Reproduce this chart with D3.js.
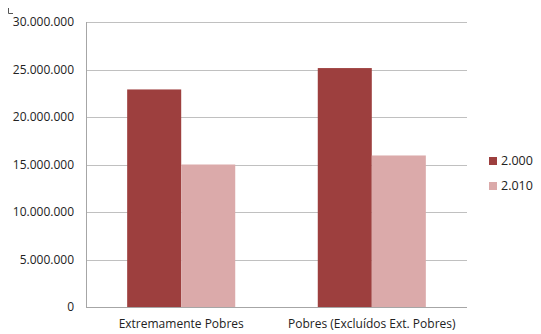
<!DOCTYPE html>
<html><head><meta charset="utf-8">
<script src="https://cdn.jsdelivr.net/npm/d3@7"></script>
<style>body{margin:0;background:#fff}svg{display:block}text{font-family:"Open Sans",sans-serif;fill:#222}</style>
</head><body><svg id="c" width="541" height="334"></svg>
<script>
const categories = ["Extremamente Pobres", "Pobres (Excluídos Ext. Pobres)"];
const seriesNames = ["2.000", "2.010"];
const values2000 = [22900000, 25150000];
const values2010 = [15000000, 15950000];
const colors = ["#9d3f3e", "#dbaaaa"];
const yTicks = [0, 5000000, 10000000, 15000000, 20000000, 25000000, 30000000];
const fmt = v => d3.format(",")(v).replace(/,/g, ".");

const svg = d3.select("#c");
const m = {l: 86, r: 467, t: 22, b: 307};
const x = d3.scaleBand().domain(categories).range([m.l, m.r]).paddingInner(0.433).paddingOuter(0.216);
const xs = d3.scaleBand().domain(seriesNames).range([0, x.bandwidth()]);
const y = d3.scaleLinear().domain([0, 30000000]).range([m.b, m.t]);

// corner mark
svg.append("path").attr("d", "M8.5,8 V13.5 H13").attr("fill", "none").attr("stroke", "#555").attr("stroke-width", 1);

// gridlines
svg.append("g").selectAll("line").data(yTicks.filter(d => d > 0)).join("line")
  .attr("x1", m.l).attr("x2", m.r).attr("y1", d => Math.round(y(d)) + 0.5).attr("y2", d => Math.round(y(d)) + 0.5)
  .attr("stroke", "#c0c0c0").attr("stroke-width", 1);

// y axis
const ya = svg.append("g").attr("transform", `translate(${m.l},0)`)
  .call(d3.axisLeft(y).tickValues(yTicks).tickFormat(fmt).tickSize(0).tickPadding(12));
ya.select(".domain").attr("stroke", "#a6a6a6").attr("d", `M0.5,${m.t}V${m.b}`);
ya.selectAll("text").attr("font-size", 12).attr("font-family", "Open Sans, sans-serif").attr("fill", "#222");

// bars
const data = categories.map((c, i) => ({c, vals: [values2000[i], values2010[i]]}));
svg.append("g").selectAll("g").data(data).join("g")
  .attr("transform", d => `translate(${x(d.c)},0)`)
  .selectAll("rect").data(d => d.vals.map((v, j) => ({v, j}))).join("rect")
  .attr("x", d => xs(seriesNames[d.j])).attr("width", xs.bandwidth())
  .attr("y", d => y(d.v)).attr("height", d => y(0) - y(d.v))
  .attr("fill", d => colors[d.j]);

// x axis
const xa = svg.append("g").attr("transform", `translate(0,${m.b})`)
  .call(d3.axisBottom(x).tickSize(0).tickPadding(12));
xa.select(".domain").attr("stroke", "#a6a6a6").attr("d", `M${m.l},0.5H${m.r}`);
xa.selectAll("text").attr("font-size", 12).attr("font-family", "Open Sans, sans-serif").attr("fill", "#222");

// legend
const lg = svg.append("g").selectAll("g").data(seriesNames).join("g")
  .attr("transform", (d, i) => `translate(489,${157 + i * 25})`);
lg.append("rect").attr("width", 8).attr("height", 8).attr("fill", (d, i) => colors[i]);
lg.append("text").attr("x", 12).attr("y", 4).attr("dy", "0.35em").attr("font-size", 12.5).text(d => d);
</script></body></html>
